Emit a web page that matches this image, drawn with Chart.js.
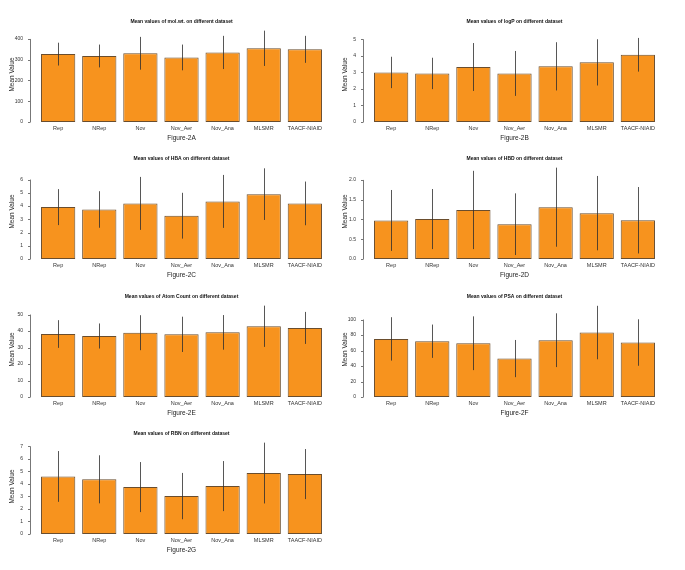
<!DOCTYPE html>
<html><head><meta charset="utf-8">
<script src="https://cdn.jsdelivr.net/npm/chart.js@4"></script>
<style>
html,body{margin:0;padding:0;background:#fff;overflow:hidden;width:685px;height:570px}
#wrap{position:relative;width:685px;height:570px}
canvas{position:absolute}
</style></head><body>
<div id="wrap"></div>
<script>
const categories = ["Rep","NRep","Nov","Nov_Aer","Nov_Ana","MLSMR","TAACF-NIAID"];

const molwtMean = [327, 318, 331, 311, 335, 355, 350];
const molwtSd   = [55, 55, 79, 62, 80, 85, 65];
const molwtTicks = ["0","100","200","300","400"];

const logpMean = [3.00, 2.94, 3.33, 2.94, 3.37, 3.61, 4.07];
const logpSd   = [0.95, 0.95, 1.45, 1.36, 1.46, 1.40, 1.02];
const logpTicks = ["0","1","2","3","4","5"];

const hbaMean = [3.92, 3.74, 4.20, 3.27, 4.35, 4.90, 4.20];
const hbaSd   = [1.36, 1.38, 2.00, 1.73, 2.00, 1.95, 1.65];
const hbaTicks = ["0","1","2","3","4","5","6"];

const hbdMean = [0.975, 1.01, 1.24, 0.88, 1.31, 1.16, 0.98];
const hbdSd   = [0.77, 0.76, 0.99, 0.78, 1.00, 0.94, 0.84];
const hbdTicks = ["0.0","0.5","1.0","1.5","2.0"];

const atomMean = [38.2, 37.0, 39.0, 38.0, 39.2, 42.9, 41.9];
const atomSd   = [8.4, 7.6, 10.6, 10.7, 10.5, 12.5, 9.7];
const atomTicks = ["0","10","20","30","40","50"];

const psaMean = [75.0, 72.0, 69.4, 49.6, 73.3, 83.2, 70.3];
const psaSd   = [28.0, 21.5, 34.7, 24.0, 34.7, 34.5, 30.0];
const psaTicks = ["0","20","40","60","80","100"];

const rbnMean = [4.60, 4.37, 3.75, 3.03, 3.83, 4.87, 4.79];
const rbnSd   = [2.03, 1.92, 2.00, 1.85, 2.00, 2.43, 2.00];
const rbnTicks = ["0","1","2","3","4","5","6","7"];

const panels = [
  {title:"Mean values of mol.wt. on different dataset", fig:"Figure-2A", mean:molwtMean, sd:molwtSd, ticks:molwtTicks, col:0, row:0},
  {title:"Mean values of logP on different dataset", fig:"Figure-2B", mean:logpMean, sd:logpSd, ticks:logpTicks, col:1, row:0},
  {title:"Mean values of HBA on different dataset", fig:"Figure-2C", mean:hbaMean, sd:hbaSd, ticks:hbaTicks, col:0, row:1},
  {title:"Mean values of HBD on different dataset", fig:"Figure-2D", mean:hbdMean, sd:hbdSd, ticks:hbdTicks, col:1, row:1},
  {title:"Mean values of Atom Count on different dataset", fig:"Figure-2E", mean:atomMean, sd:atomSd, ticks:atomTicks, col:0, row:2},
  {title:"Mean values of PSA on different dataset", fig:"Figure-2F", mean:psaMean, sd:psaSd, ticks:psaTicks, col:1, row:2},
  {title:"Mean values of RBN on different dataset", fig:"Figure-2G", mean:rbnMean, sd:rbnSd, ticks:rbnTicks, col:0, row:3}
];

const colLeft = [0, 333];
const rowTop = [0, 137, 275, 412];
const FONT = "'Liberation Sans', Arial, sans-serif";

const errPlugin = {
  id:'errbars',
  afterDatasetsDraw(chart, args, opts){
    const ctx = chart.ctx, ys = chart.scales.y, meta = chart.getDatasetMeta(0);
    const ca = chart.chartArea;
    ctx.save();
    ctx.beginPath(); ctx.rect(ca.left, ca.top - 2, ca.right - ca.left, ca.bottom - ca.top + 2); ctx.clip();
    ctx.strokeStyle = 'rgba(45,45,45,0.8)'; ctx.lineWidth = 1;
    opts.mean.forEach((m, i) => {
      const x = Math.round(meta.data[i].x) + 0.5;
      const y1 = ys.getPixelForValue(m + opts.sd[i]);
      const y2 = ys.getPixelForValue(Math.max(0, m - opts.sd[i]));
      ctx.beginPath(); ctx.moveTo(x, y1); ctx.lineTo(x, y2); ctx.stroke();
    });
    ctx.restore();
    // R-style y axis line with tick marks
    ctx.save();
    ctx.strokeStyle = '#777'; ctx.lineWidth = 1;
    const ax = Math.round(ca.left - 7.6) + 0.5;
    const tv = opts.ticks.map(parseFloat);
    const yA = ys.getPixelForValue(tv[0]), yB = ys.getPixelForValue(tv[tv.length-1]);
    ctx.beginPath(); ctx.moveTo(ax, yA); ctx.lineTo(ax, yB); ctx.stroke();
    tv.forEach(v => {
      const y = Math.round(ys.getPixelForValue(v)) + 0.5;
      ctx.beginPath(); ctx.moveTo(ax, y); ctx.lineTo(ax - 2.5, y); ctx.stroke();
    });
    ctx.restore();
  }
};

const wrap = document.getElementById('wrap');
panels.forEach(p => {
  const cv = document.createElement('canvas');
  cv.width = 345; cv.height = 145;
  cv.style.left = colLeft[p.col] + 'px';
  cv.style.top = rowTop[p.row] + 'px';
  wrap.appendChild(cv);
  const ymax = (Math.max(...p.mean) + Math.max(...p.sd)) * 1.04;
  new Chart(cv, {
    type:'bar',
    data:{labels:categories, datasets:[{
      data:p.mean, backgroundColor:'#f7931e', borderColor:'rgba(90,58,22,0.9)',
      borderWidth:1, borderSkipped:false, categoryPercentage:1, barPercentage:1/1.2
    }]},
    options:{
      responsive:false, animation:false, devicePixelRatio:1,
      layout:{padding:{top:0, left:0, right:19.6, bottom:0}},
      plugins:{
        legend:{display:false}, tooltip:{enabled:false},
        title:{display:true, text:p.title, fullSize:false, color:'#111',
          font:{family:FONT, size:5, weight:'bold', lineHeight:1.2}, padding:{top:18.5, bottom:2.5}},
        errbars:{mean:p.mean, sd:p.sd, ticks:p.ticks}
      },
      scales:{
        x:{
          grid:{display:false, drawTicks:false}, border:{display:false},
          ticks:{font:{family:FONT, size:5.5}, color:'#333', padding:3.5, maxRotation:0, autoSkip:false},
          title:{display:true, text:p.fig, color:'#222', font:{family:FONT, size:6.5, lineHeight:1.2}, padding:{top:0, bottom:2.6}},
          afterFit(s){ s.height = 23; }
        },
        y:{
          min:0, max:ymax,
          grid:{display:false, drawTicks:false}, border:{display:false},
          afterBuildTicks(s){ s.ticks = p.ticks.map(t => ({value:parseFloat(t)})); },
          ticks:{font:{family:FONT, size:5}, color:'#333', padding:14.6, callback:(v, i) => p.ticks[i]},
          title:{display:true, text:'Mean Value', color:'#222', font:{family:FONT, size:6.5, lineHeight:1.2}, padding:{top:8.8, bottom:0}},
          afterFit(s){ s.width = 37.6; }
        }
      }
    },
    plugins:[errPlugin]
  });
});
</script>
</body></html>
